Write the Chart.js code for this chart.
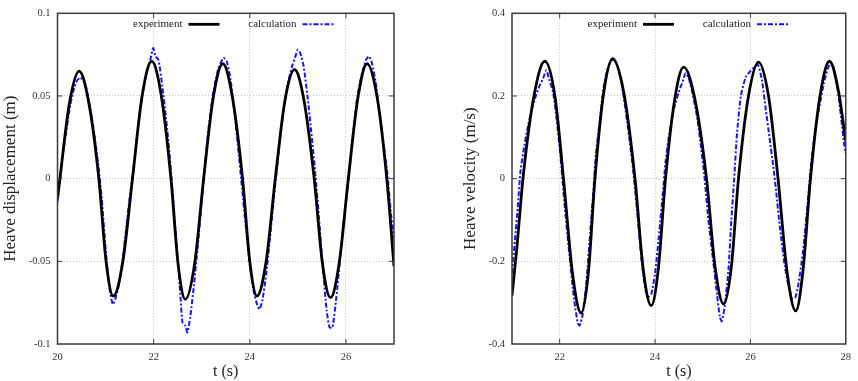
<!DOCTYPE html>
<html>
<head>
<meta charset="utf-8">
<title>Heave displacement and velocity</title>
<script src="https://cdn.jsdelivr.net/npm/chart.js"></script>
<style>
  body { margin: 0; background: #fff; }
  .box { position: absolute; top: 0; }
</style>
</head>
<body>
<div class="box" style="left:0px;"><canvas id="disp" width="430" height="381"></canvas></div>
<div class="box" style="left:430px;"><canvas id="vel" width="428" height="381"></canvas></div>

<script>
// heave displacement, experiment
const dispExpT = [20.0, 20.05, 20.25, 20.45, 20.65, 20.86, 21.01, 21.16, 21.36, 21.56, 21.76, 21.96, 22.16, 22.36, 22.51, 22.66, 22.85, 23.04, 23.24, 23.44, 23.64, 23.85, 24.0, 24.15, 24.34, 24.53, 24.73, 24.93, 25.13, 25.34, 25.51, 25.68, 25.86, 26.05, 26.25, 26.44, 26.65, 26.85, 27.0];
const dispExpY = [-0.012, 0, 0.046, 0.065, 0.046, 0, -0.05, -0.071, -0.05, 0, 0.05, 0.071, 0.05, 0, -0.052, -0.073, -0.052, 0, 0.049, 0.0695, 0.049, 0, -0.05, -0.071, -0.05, 0, 0.047, 0.066, 0.047, 0, -0.051, -0.072, -0.051, 0, 0.049, 0.0695, 0.049, 0, -0.053];

// heave displacement, calculation
const dispCalcT = [20.0, 20.04, 20.1, 20.18, 20.25, 20.32, 20.4, 20.47, 20.52, 20.58, 20.66, 20.72, 20.78, 20.85, 20.92, 21.0, 21.08, 21.15, 21.2, 21.28, 21.35, 21.43, 21.5, 21.58, 21.66, 21.75, 21.85, 21.93, 21.99, 22.04, 22.1, 22.18, 22.26, 22.34, 22.42, 22.5, 22.56, 22.6, 22.66, 22.7, 22.76, 22.84, 22.92, 23.0, 23.06, 23.14, 23.24, 23.34, 23.45, 23.52, 23.6, 23.68, 23.76, 23.84, 23.92, 24.0, 24.08, 24.15, 24.2, 24.26, 24.34, 24.42, 24.5, 24.58, 24.68, 24.78, 24.88, 24.95, 25.0, 25.05, 25.12, 25.2, 25.28, 25.36, 25.44, 25.52, 25.6, 25.66, 25.72, 25.8, 25.88, 25.96, 26.04, 26.12, 26.22, 26.32, 26.42, 26.48, 26.54, 26.62, 26.7, 26.78, 26.86, 26.94, 27.0];
const dispCalcY = [-0.014, -0.004, 0.012, 0.028, 0.042, 0.052, 0.059, 0.061, 0.06, 0.057, 0.046, 0.036, 0.024, 0.008, -0.012, -0.042, -0.066, -0.076, -0.073, -0.064, -0.05, -0.03, -0.012, 0.006, 0.028, 0.048, 0.064, 0.072, 0.079, 0.074, 0.072, 0.056, 0.036, 0.012, -0.018, -0.048, -0.072, -0.087, -0.089, -0.093, -0.084, -0.064, -0.04, -0.014, 0.006, 0.03, 0.052, 0.066, 0.073, 0.071, 0.06, 0.04, 0.018, -0.006, -0.03, -0.052, -0.068, -0.076, -0.079, -0.074, -0.058, -0.036, -0.012, 0.01, 0.036, 0.056, 0.068, 0.074, 0.078, 0.076, 0.068, 0.05, 0.028, 0.004, -0.024, -0.054, -0.08, -0.09, -0.09, -0.072, -0.048, -0.024, -0.004, 0.02, 0.046, 0.062, 0.072, 0.074, 0.07, 0.058, 0.04, 0.022, 0.004, -0.022, -0.036];

// heave velocity, experiment
const velExpT = [21.0, 21.1, 21.23, 21.46, 21.69, 21.9, 22.08, 22.27, 22.45, 22.6, 22.74, 22.92, 23.11, 23.35, 23.58, 23.75, 23.92, 24.07, 24.22, 24.41, 24.6, 24.84, 25.08, 25.26, 25.44, 25.6, 25.75, 25.96, 26.17, 26.38, 26.58, 26.77, 26.95, 27.1, 27.26, 27.46, 27.66, 27.85, 28.0];
const velExpY = [-0.283, -0.17, 0, 0.2, 0.284, 0.2, 0, -0.23, -0.325, -0.23, 0, 0.205, 0.29, 0.205, 0, -0.217, -0.307, -0.217, 0, 0.19, 0.27, 0.19, 0, -0.214, -0.303, -0.214, 0, 0.2, 0.282, 0.2, 0, -0.226, -0.32, -0.226, 0, 0.2, 0.284, 0.21, 0.09];

// heave velocity, calculation
const velCalcT = [21.0, 21.06, 21.12, 21.18, 21.26, 21.34, 21.42, 21.5, 21.58, 21.66, 21.72, 21.78, 21.86, 21.94, 22.02, 22.1, 22.2, 22.3, 22.38, 22.42, 22.48, 22.56, 22.64, 22.7, 22.76, 22.84, 22.92, 23.0, 23.08, 23.14, 23.2, 23.3, 23.4, 23.48, 23.56, 23.64, 23.72, 23.8, 23.86, 23.92, 24.0, 24.08, 24.16, 24.22, 24.3, 24.4, 24.5, 24.58, 24.64, 24.7, 24.78, 24.88, 24.96, 25.04, 25.12, 25.22, 25.3, 25.36, 25.4, 25.46, 25.54, 25.6, 25.66, 25.72, 25.8, 25.9, 26.0, 26.1, 26.16, 26.24, 26.32, 26.4, 26.48, 26.54, 26.62, 26.72, 26.8, 26.88, 26.94, 27.0, 27.1, 27.2, 27.26, 27.34, 27.44, 27.54, 27.62, 27.68, 27.74, 27.8, 27.86, 27.92, 27.97, 28.0];
const velCalcY = [-0.228, -0.15, -0.07, 0.02, 0.08, 0.13, 0.17, 0.2, 0.225, 0.245, 0.262, 0.24, 0.21, 0.14, 0.05, -0.06, -0.18, -0.29, -0.35, -0.355, -0.33, -0.25, -0.13, -0.04, 0.06, 0.14, 0.22, 0.265, 0.285, 0.288, 0.275, 0.23, 0.15, 0.08, 0, -0.1, -0.2, -0.27, -0.285, -0.28, -0.23, -0.14, -0.04, 0.04, 0.11, 0.17, 0.21, 0.235, 0.255, 0.245, 0.21, 0.15, 0.08, 0, -0.1, -0.2, -0.28, -0.335, -0.345, -0.31, -0.22, -0.1, 0, 0.11, 0.2, 0.245, 0.26, 0.272, 0.275, 0.24, 0.17, 0.1, 0.03, -0.03, -0.12, -0.21, -0.26, -0.29, -0.288, -0.26, -0.18, -0.06, 0.02, 0.1, 0.17, 0.23, 0.265, 0.28, 0.27, 0.24, 0.19, 0.13, 0.08, 0.06];

// ticks
const dispXTicks = [20, 22, 24, 26];
const dispYTicks = [-0.1, -0.05, 0, 0.05, 0.1];
const velXTicks = [22, 24, 26, 28];
const velYTicks = [-0.4, -0.2, 0, 0.2, 0.4];

const serif = '"Liberation Serif", "Times New Roman", serif';
const blue = '#1414ff';

function pts(t, y) {
    return t.map((v, i) => ({ x: v, y: y[i] }));
}

// gnuplot style frame, inner tick marks and legend inside the top
const framePlugin = {
    id: 'frame',
    afterDraw(chart) {
        const { ctx, chartArea: a, scales } = chart;
        ctx.save();
        ctx.strokeStyle = '#3a3a3a';
        ctx.lineWidth = 1.5;
        ctx.strokeRect(a.left, a.top, a.right - a.left, a.bottom - a.top);

        ctx.lineWidth = 1;
        ctx.beginPath();
        scales.x.ticks.forEach(t => {
            const px = scales.x.getPixelForValue(t.value);
            if (px <= a.left + 1 || px >= a.right - 1) return;
            ctx.moveTo(px, a.bottom); ctx.lineTo(px, a.bottom - 5);
            ctx.moveTo(px, a.top); ctx.lineTo(px, a.top + 5);
        });
        scales.y.ticks.forEach(t => {
            const py = scales.y.getPixelForValue(t.value);
            if (py <= a.top + 1 || py >= a.bottom - 1) return;
            ctx.moveTo(a.left, py); ctx.lineTo(a.left + 5, py);
            ctx.moveTo(a.right, py); ctx.lineTo(a.right - 5, py);
        });
        ctx.stroke();

        // legend
        const ly = a.top + 11;
        ctx.font = '11px ' + serif;
        ctx.fillStyle = '#222';
        ctx.textAlign = 'right';
        ctx.textBaseline = 'middle';
        const ds = chart.data.datasets;
        const spots = [125, 239];
        ds.forEach((d, i) => {
            const x0 = a.left + spots[i];
            ctx.fillText(d.label, x0, ly);
            ctx.beginPath();
            ctx.strokeStyle = d.borderColor;
            ctx.lineWidth = d.borderWidth;
            ctx.setLineDash(d.borderDash || []);
            ctx.moveTo(x0 + 6, ly);
            ctx.lineTo(x0 + 37, ly);
            ctx.stroke();
            ctx.setLineDash([]);
        });
        ctx.restore();
    }
};

function makeChart(id, cfg) {
    return new Chart(document.getElementById(id), {
        type: 'line',
        data: {
            datasets: [
                {
                    label: 'experiment',
                    data: pts(cfg.expT, cfg.expY),
                    borderColor: '#000',
                    borderWidth: 2.8,
                    pointRadius: 0,
                    cubicInterpolationMode: 'monotone'
                },
                {
                    label: 'calculation',
                    data: pts(cfg.calcT, cfg.calcY),
                    borderColor: blue,
                    borderWidth: 2,
                    borderDash: [5, 2, 2, 2],
                    pointRadius: 0,
                    tension: 0.2
                }
            ]
        },
        options: {
            responsive: false,
            animation: false,
            layout: { padding: { left: 0, right: cfg.padRight, top: 8, bottom: 0 } },
            plugins: { legend: { display: false }, tooltip: { enabled: false } },
            scales: {
                x: {
                    type: 'linear',
                    min: cfg.xMin,
                    max: cfg.xMax,
                    afterBuildTicks: s => { s.ticks = cfg.xTicks.map(v => ({ value: v })); },
                    afterFit: s => { s.height = 37; },
                    grid: { color: '#c4c4c4', drawTicks: false },
                    border: { display: false, dash: [1, 2] },
                    ticks: {
                        padding: 7,
                        color: '#333',
                        font: { family: serif, size: 10.5 },
                        maxRotation: 0,
                        callback: v => String(v)
                    },
                    title: {
                        display: true,
                        text: 't (s)',
                        color: '#222',
                        font: { family: serif, size: 16 },
                        padding: { top: 0, bottom: 0 }
                    }
                },
                y: {
                    type: 'linear',
                    min: cfg.yMin,
                    max: cfg.yMax,
                    afterBuildTicks: s => { s.ticks = cfg.yTicks.map(v => ({ value: v })); },
                    afterFit: s => { s.width = cfg.yWidth; },
                    grid: { color: '#c4c4c4', drawTicks: false },
                    border: { display: false, dash: [1, 2] },
                    ticks: {
                        padding: 7,
                        color: '#333',
                        font: { family: serif, size: 10.5 },
                        callback: v => String(v)
                    },
                    title: {
                        display: true,
                        text: cfg.yTitle,
                        color: '#222',
                        font: { family: serif, size: 17 },
                        padding: { top: cfg.titleShift, bottom: 0 }
                    }
                }
            }
        },
        plugins: [framePlugin]
    });
}

makeChart('disp', {
    expT: dispExpT, expY: dispExpY, calcT: dispCalcT, calcY: dispCalcY,
    xMin: 20, xMax: 27, yMin: -0.1, yMax: 0.1,
    xTicks: dispXTicks, yTicks: dispYTicks,
    yTitle: 'Heave displacement (m)',
    yWidth: 57.5, padRight: 36, titleShift: 0
});

makeChart('vel', {
    expT: velExpT, expY: velExpY, calcT: velCalcT, calcY: velCalcY,
    xMin: 21, xMax: 28, yMin: -0.4, yMax: 0.4,
    xTicks: velXTicks, yTicks: velYTicks,
    yTitle: 'Heave velocity (m/s)',
    yWidth: 82, padRight: 9, titleShift: 30
});
</script>
</body>
</html>
